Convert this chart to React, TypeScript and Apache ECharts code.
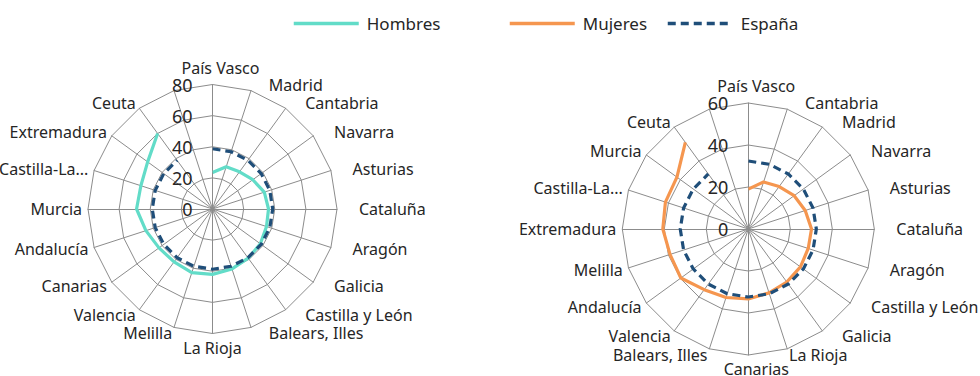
import React, { useEffect, useRef } from "react";
import * as echarts from "echarts";

// Left chart (Hombres), clockwise from top
const hombresCategories = [
  "País Vasco", "Madrid", "Cantabria", "Navarra", "Asturias", "Cataluña", "Aragón",
  "Galicia", "Castilla y León", "Balears, Illes", "La Rioja", "Melilla", "Valencia",
  "Canarias", "Andalucía", "Murcia", "Castilla-La...", "Extremadura", "Ceuta",
];
const hombresValues = [23.5, 28.5, 29.5, 32, 35, 36, 36.5, 38, 39, 40.5, 42, 43, 42, 42.5, 45, 48.8, 48.4, 51.5, 60];
const espanaHombres = [38.7, 38.7, 38.7, 38.7, 38.7, 38.7, 38.7, 38.7, 38.7, 38.7, 38.7, 38.7, 38.7, 38.7, 38.7, 38.7, 38.7, 38.7, 38.7];

// Right chart (Mujeres), clockwise from top
const mujeresCategories = [
  "País Vasco", "Cantabria", "Madrid", "Navarra", "Asturias", "Cataluña", "Aragón",
  "Castilla y León", "Galicia", "La Rioja", "Canarias", "Balears, Illes", "Valencia",
  "Andalucía", "Melilla", "Extremadura", "Castilla-La...", "Murcia", "Ceuta",
];
const mujeresValues = [19, 23.5, 25, 27, 28.5, 30.1, 30, 30.7, 31.2, 32, 33.3, 34.3, 35.7, 39.7, 39.2, 40.7, 41.5, 42, 51];
const espanaMujeres = [32.4, 32.4, 32.4, 32.4, 32.4, 32.4, 32.4, 32.4, 32.4, 32.4, 32.4, 32.4, 32.4, 32.4, 32.4, 32.4, 32.4, 32.4, 32.4];

const leftMax = 80;
const rightMax = 60;
const tickInterval = 20;

const FONT = "Noto Sans";
const GRID = "#8c8c8c";
const TEXT = "#262626";
const C_H = "#62dcc8";
const C_M = "#f5964f";
const C_E = "#1f4e79";

export default function App() {
  const ref = useRef<HTMLDivElement>(null);
  useEffect(() => {
    if (!ref.current) return;
    const chart = echarts.init(ref.current, null, { renderer: "svg" });

    const spokes = (cats: string[]) => [...cats, ""]; // 20th unlabeled spoke
    // radar indicators go counter-clockwise; reverse (keeping the first at top) for clockwise order
    const indicators = (cats: string[], max: number) => {
      const s = spokes(cats);
      const ordered = [s[0], ...s.slice(1).reverse()];
      return ordered.map((name) => ({ name, max, min: 0 }));
    };

    const nameStyle = { color: TEXT, fontSize: 16, fontFamily: FONT };
    const radarCommon = {
      shape: "polygon",
      startAngle: 90,
      nameGap: 6,
      axisName: {
        ...nameStyle,
        formatter: (name: string) =>
          name === "La Rioja" ? `{c|${name}}` : name === "País Vasco" ? `{t|${name}}` : `{s|${name}}`,
        rich: {
          s: { ...nameStyle, padding: [0, 0, 0, 16] },
          t: { ...nameStyle, padding: [0, 0, 3, 16] },
          c: { ...nameStyle },
        },
      },
      axisLine: { lineStyle: { color: GRID, width: 1 } },
      splitLine: { lineStyle: { color: GRID, width: 1 } },
      splitArea: { show: false },
      axisTick: { show: false },
      axisLabel: { show: false },
    };

    const centers = [
      { c: [212.5, 209], r: 124.5 },
      { c: [748.3, 229], r: 126 },
    ];

    const radiusLabel = { fontSize: 18, color: TEXT, fontFamily: FONT, margin: 20 };

    const option: any = {
      animation: false,
      textStyle: { fontFamily: FONT },
      legend: [
        { data: ["Hombres"], left: 287, top: 10 },
        { data: ["Mujeres"], left: 503, top: 10 },
        { data: ["España"], left: 661, top: 10 },
      ].map((l) => ({
        ...l,
        itemWidth: 65,
        itemHeight: 14,
        itemStyle: { opacity: 0 },
        lineStyle: { width: 3.5 },
        textStyle: { fontSize: 17, color: TEXT, fontFamily: FONT, padding: [0, 0, 0, 3] },
      })),
      radar: [
        { ...radarCommon, center: centers[0].c, radius: centers[0].r, splitNumber: leftMax / tickInterval, indicator: indicators(hombresCategories, leftMax) },
        { ...radarCommon, center: centers[1].c, radius: centers[1].r, splitNumber: rightMax / tickInterval, indicator: indicators(mujeresCategories, rightMax) },
      ],
      polar: [
        { center: centers[0].c, radius: centers[0].r },
        { center: centers[1].c, radius: centers[1].r },
      ],
      angleAxis: [
        { polarIndex: 0, type: "category", data: spokes(hombresCategories), boundaryGap: false, startAngle: 90, clockwise: true, show: false },
        { polarIndex: 1, type: "category", data: spokes(mujeresCategories), boundaryGap: false, startAngle: 90, clockwise: true, show: false },
      ],
      radiusAxis: [
        { polarIndex: 0, type: "value", min: 0, max: leftMax, interval: tickInterval, axisLine: { show: false }, axisTick: { show: false }, splitLine: { show: false }, axisLabel: radiusLabel, z: 10 },
        { polarIndex: 1, type: "value", min: 0, max: rightMax, interval: tickInterval, axisLine: { show: false }, axisTick: { show: false }, splitLine: { show: false }, axisLabel: radiusLabel, z: 10 },
      ],
      series: [
        { name: "Hombres", type: "line", coordinateSystem: "polar", polarIndex: 0, data: hombresValues, symbol: "none", lineStyle: { color: C_H, width: 3.2 }, itemStyle: { color: C_H }, z: 5 },
        { name: "España", type: "line", coordinateSystem: "polar", polarIndex: 0, data: espanaHombres, symbol: "none", lineStyle: { color: C_E, width: 3.2, type: [8, 5] }, itemStyle: { color: C_E }, z: 6 },
        { name: "Mujeres", type: "line", coordinateSystem: "polar", polarIndex: 1, data: mujeresValues, symbol: "none", lineStyle: { color: C_M, width: 3.2 }, itemStyle: { color: C_M }, z: 5 },
        { name: "España", type: "line", coordinateSystem: "polar", polarIndex: 1, data: espanaMujeres, symbol: "none", lineStyle: { color: C_E, width: 3.2, type: [8, 5] }, itemStyle: { color: C_E }, z: 6 },
      ],
    };
    chart.setOption(option);
    return () => chart.dispose();
  }, []);
  return <div ref={ref} style={{ position: "absolute", left: 0, top: 0, width: 980, height: 376, background: "#fff" }} />;
}
